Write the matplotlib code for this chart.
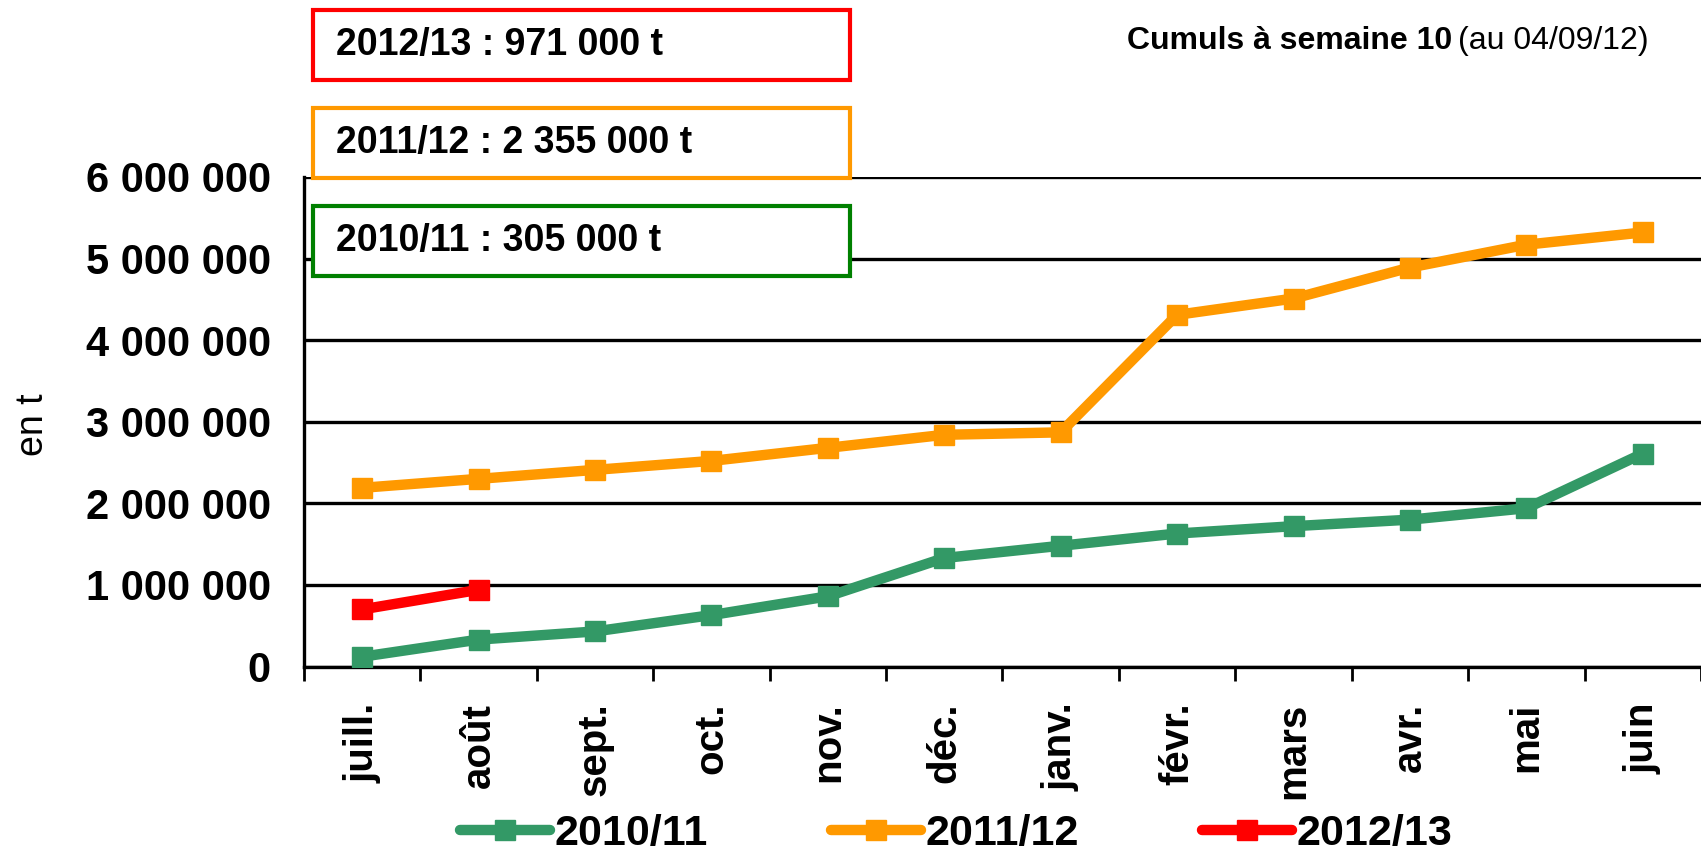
# Cumuls mensuels (en t) - campagnes 2010/11, 2011/12, 2012/13
import matplotlib
matplotlib.use('Agg')
import matplotlib.pyplot as plt
from matplotlib.patches import Rectangle
import numpy as np

plt.rcParams['font.family'] = ['Liberation Sans', 'DejaVu Sans']

mois = ['juill.', 'août', 'sept.', 'oct.', 'nov.', 'déc.', 'janv.', 'févr.', 'mars', 'avr.', 'mai', 'juin']
cumul_2010 = [120000, 330000, 430000, 630000, 860000, 1330000, 1480000, 1630000, 1720000, 1800000, 1940000, 2610000]
cumul_2011 = [2190000, 2300000, 2410000, 2520000, 2680000, 2840000, 2870000, 4310000, 4510000, 4890000, 5170000, 5320000]
cumul_2012 = [700000, 940000]
y_ticks = [0, 1000000, 2000000, 3000000, 4000000, 5000000, 6000000]

campagnes = ['2010/11', '2011/12', '2012/13']
couleurs = ['#339966', '#FF9900', '#FF0000']
encadres = ['2012/13 : 971 000 t', '2011/12 : 2 355 000 t', '2010/11 : 305 000 t']
couleurs_cadre = ['#FF0000', '#FF9900', '#008000']

fig = plt.figure(figsize=(17.01, 8.52), dpi=100)
ax = fig.add_axes([0.1787, 0.2177, 0.8213, 0.5746])

x = np.arange(len(mois))
for serie, nom, c in zip([cumul_2010, cumul_2011, cumul_2012], campagnes, couleurs):
    ax.plot(x[:len(serie)], serie, '-s', color=c, lw=7.5, ms=15, label=nom,
            solid_capstyle='round', zorder=3)

ax.set_xlim(-0.5, len(mois) - 0.5)
ax.set_ylim(0, 6000000)
ax.set_yticks(y_ticks)
ax.set_yticklabels([f'{v:,}'.replace(',', ' ') for v in y_ticks], fontsize=30, fontweight='bold')
ax.tick_params(axis='y', length=0, pad=24)
ax.yaxis.grid(True, color='black', lw=2.4)
ax.set_axisbelow(True)

ax.set_xticks(x)
ax.set_xticklabels(mois, rotation=90, fontsize=29, fontweight='bold', va='top')
ax.set_xticks(np.arange(len(mois) + 1) - 0.5, minor=True)
ax.tick_params(axis='x', which='major', length=0, pad=26)
ax.tick_params(axis='x', which='minor', length=10, width=2, direction='out')

for s in ['top', 'right']:
    ax.spines[s].set_visible(False)
for s in ['left', 'bottom']:
    ax.spines[s].set_linewidth(2.4)

# titre de l'axe y
fig.text(33 / 1701, 1 - 425 / 852, 'en t', fontsize=27, rotation=90,
         ha='center', va='center')

leg = fig.legend(loc='center', bbox_to_anchor=(0.562, 0.021), ncol=3, frameon=False,
                 prop={'size': 31, 'weight': 'bold'}, numpoints=1,
                 handlelength=2.1, handletextpad=0.1, columnspacing=2.85)

# encadrés des cumuls
h = 70 / 852
w = 537 / 1701
for i, (txt, c) in enumerate(zip(encadres, couleurs_cadre)):
    y0 = 1 - (80 + i * 98) / 852
    fig.add_artist(Rectangle((313 / 1701, y0), w, h, transform=fig.transFigure,
                             facecolor='white', edgecolor=c, lw=3, zorder=5))
    fig.text(336 / 1701, y0 + h / 2, txt, fontsize=27, fontweight='bold',
             va='center', ha='left', zorder=6)

t = fig.text(1649 / 1701, 1 - 41 / 852, '(au 04/09/12)', fontsize=23,
             ha='right', va='center')
fig.canvas.draw()
bb = t.get_window_extent()
fig.text(bb.x0 - 6, bb.y0 + bb.height / 2, 'Cumuls à semaine 10', fontsize=23,
         fontweight='bold', ha='right', va='center', transform=None)

fig.savefig('out.png', dpi=100)
